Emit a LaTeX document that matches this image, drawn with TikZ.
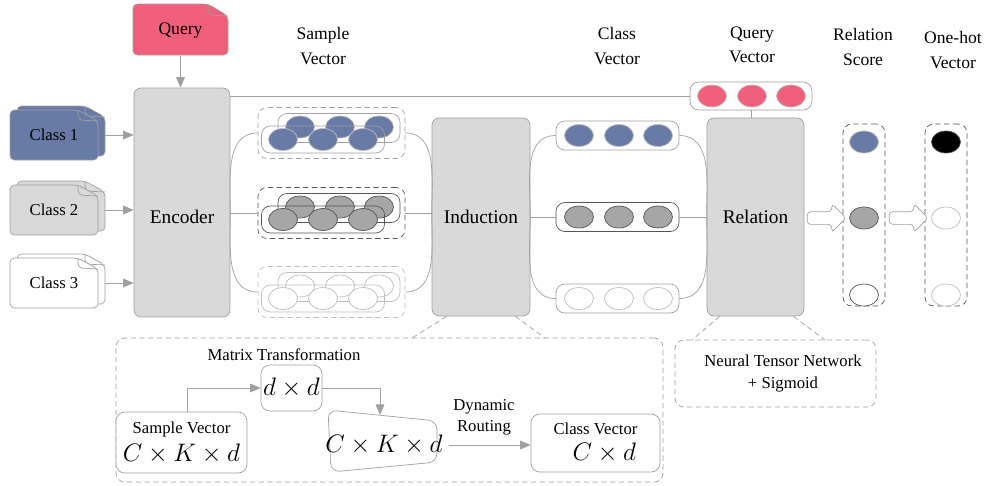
\documentclass[tikz,border=0pt]{standalone}
\usepackage{amsmath}
\usepackage{fontspec}
\setmainfont{Liberation Serif}
\usetikzlibrary{arrows.meta,shapes.geometric,shapes.arrows}

\definecolor{qpink}{RGB}{240,96,122}
\definecolor{cblue}{RGB}{104,122,166}
\definecolor{boxgray}{RGB}{217,217,217}
\definecolor{dotgray}{RGB}{166,166,166}
\definecolor{wiregray}{RGB}{160,160,160}
\definecolor{darkline}{RGB}{85,85,85}
\definecolor{paleline}{RGB}{190,190,190}

\newcommand{\mathsize}{\fontsize{13.5}{15}\selectfont}
\newcommand{\labsize}{\fontsize{10}{14}\selectfont}
\newcommand{\smallsize}{\fontsize{9.5}{12}\selectfont}

\tikzset{
  block/.style={draw=wiregray,fill=boxgray,rounded corners=4pt,inner sep=0pt,font=\fontsize{11}{13}\selectfont},
  page/.style={draw=wiregray,rounded corners=2.5pt},
  wire/.style={draw=wiregray},
  flow/.style={draw=wiregray,-{Triangle[length=6pt,width=5pt]}},
  vecbox/.style={draw=#1,rounded corners=5pt,inner sep=0pt},
  dashbox/.style={draw=#1,dash pattern=on 3pt off 2pt,rounded corners=5pt,inner sep=0pt},
  minibox/.style={draw=wiregray,fill=white,rounded corners=5pt,inner sep=0pt},
  bead/.style={ellipse,inner sep=0pt,minimum width=0.58cm,minimum height=0.44cm},
  beadblue/.style={bead,fill=cblue,draw=paleline},
  beadgray/.style={bead,fill=dotgray,draw=darkline},
  beadwhite/.style={bead,fill=white,draw=paleline},
  beadpink/.style={bead,fill=qpink,draw=paleline},
  beadblack/.style={bead,fill=black,draw=darkline},
  fatarrow/.style={single arrow,draw=wiregray,fill=white,minimum height=0.78cm,inner xsep=0pt,inner ysep=0.12cm,single arrow head extend=0.16cm,rounded corners=2pt}
}

\begin{document}
\begin{tikzpicture}[x=0.02cm,y=-0.02cm]
\useasboundingbox (0,0) rectangle (987,485);

% encoder side
\node[block,minimum width=1.92cm,minimum height=4.58cm] (enc) at (182,202.5) {\raisebox{-0.41cm}[0pt][0pt]{Encoder}};

\draw[page,fill=qpink] (133,4) -- (208,4) -- (228,16) -- (228,55) -- (133,55) -- cycle;
\draw[page] (208,4) -- ++(0,11) -- ++(20,1);
\node[font=\labsize,minimum width=1.9cm,minimum height=1.02cm] (query) at (180.5,30.5) {Query};
\draw[flow] (query.south) -- (query.south |- enc.north);

\foreach \i/\yy/\col in {1/110/cblue,2/185/boxgray,3/258/white}{
  \draw[page,fill=\col] (17,\yy-4) -- ++(68,0) -- ++(20,11) -- ++(0,39) -- ++(-88,0) -- cycle;
  \draw[page] (85,\yy-4) -- ++(0,10) -- ++(20,1);
  \draw[page,fill=\col] (10,\yy) -- ++(68,0) -- ++(20,11) -- ++(0,39) -- ++(-88,0) -- cycle;
  \draw[page] (78,\yy) -- ++(0,10) -- ++(20,1);
  \node[font=\fontsize{9.5}{11}\selectfont,minimum width=1.76cm,minimum height=1cm] (c\i) at (54,\yy+25) {Class \i};
  \draw[flow] ([xshift=0.14cm]c\i.east) -- (enc.west |- c\i.east);
}

% sample vectors
\foreach \g/\yy/\st/\ln in {1/133/beadblue/wiregray,2/213/beadgray/darkline,3/292/beadwhite/paleline}{
  \node[dashbox=\ln,minimum width=2.94cm,minimum height=1.02cm] (s\g) at (331.5,\yy) {};
  \node[vecbox=\ln,minimum width=2.44cm,minimum height=0.58cm] (sb\g) at (339,\yy-5) {};
  \foreach \xx [count=\k] in {300,340,379} \node[\st] (sb\g\k) at (\xx,\yy-6) {};
  \node[vecbox=\ln,minimum width=2.46cm,minimum height=0.54cm] (sf\g) at (323,\yy+6.5) {};
  \foreach \xx [count=\k] in {283,323,363} \node[\st] (sf\g\k) at (\xx,\yy+6.5) {};
}
\node[font=\labsize,align=center] (slab) at (323,46) {Sample\\Vector};

\node[block,minimum width=1.96cm,minimum height=3.96cm] (ind) at (481,217) {Induction};

\draw[wire] (s1.west) to[out=180,in=90] (enc.east |- s2.west) to[out=-90,in=180] (s3.west);
\draw[wire] (enc.east |- s2.west) -- (s2.west);
\draw[wire] (s1.east) to[out=0,in=90] (ind.west |- s2.east) to[out=-90,in=0] (s3.east);
\draw[wire] (s2.east) -- (ind.west |- s2.east);

% class vectors
\node[block,minimum width=1.94cm,minimum height=3.96cm] (rel) at (755.5,217) {Relation};

\foreach \i/\yy/\st/\ln in {1/135.5/beadblue/wiregray,2/217/beadgray/darkline,3/298.5/beadwhite/wiregray}{
  \node[vecbox=\ln,minimum width=2.46cm,minimum height=0.58cm] (v\i) at (617.5,\yy) {};
  \foreach \xx [count=\k] in {579,619,658} \node[\st] (v\i\k) at (\xx,\yy) {};
}
\node[font=\labsize,align=center] (clab) at (617,46) {Class\\Vector};

\draw[wire] (v1.west) to[out=180,in=90] (ind.east |- v2.west) to[out=-90,in=180] (v3.west);
\draw[wire] (ind.east |- v2.west) -- (v2.west);
\draw[wire] (v1.east) to[out=0,in=90] (rel.west |- v2.east) to[out=-90,in=0] (v3.east);
\draw[wire] (v2.east) -- (rel.west |- v2.east);

% query vector
\node[vecbox=wiregray,minimum width=2.44cm,minimum height=0.56cm] (qv) at (751,96) {};
\foreach \xx [count=\k] in {712,752,791} \node[beadpink] (qv\k) at (\xx,96) {};
\node[font=\labsize,align=center] (qlab) at (752,45) {Query\\Vector};
\draw[wire] (enc.north east |- qv.west) -- (qv.west);
\draw[wire] (qv.south) -- (qv.south |- rel.north);

% scores
\node[dashbox=darkline,minimum width=0.84cm,minimum height=3.64cm] (rs) at (864,215) {};
\node[beadblue] (rs1) at (864,142) {};
\node[beadgray] (rs2) at (864,218) {};
\node[beadwhite,draw=darkline] (rs3) at (864,295) {};
\node[font=\labsize,align=center] (rlab) at (863,47) {Relation\\Score};

\node[dashbox=darkline,minimum width=0.84cm,minimum height=3.64cm] (oh) at (946,215) {};
\node[beadblack] (oh1) at (946,142) {};
\node[beadwhite] (oh2) at (946,218) {};
\node[beadwhite] (oh3) at (946,295) {};
\node[font=\labsize,align=center] (olab) at (953,50) {One-hot\\Vector};

\node[fatarrow] (fa1) at (823.5,218) {};
\node[fatarrow] (fa2) at (905.5,218) {};

% induction details
\node[dashbox=wiregray,minimum width=10.94cm,minimum height=2.88cm] (detail) at (389.5,410) {};
\coordinate (d1) at (412,338);
\coordinate (d2) at (545,338);
\draw[wire,dash pattern=on 3pt off 2pt] ([xshift=0.3cm]ind.south west) -- (d1);
\draw[wire,dash pattern=on 3pt off 2pt] ([xshift=-0.3cm]ind.south east) -- (d2);

\node[font=\smallsize] (mt) at (284,355) {Matrix Transformation};
\node[minibox,font=\mathsize,minimum width=1.22cm,minimum height=0.92cm] (dd) at (291.5,388) {$d\times d$};
\node[minibox,align=center,font=\smallsize,minimum width=2.62cm,minimum height=1.22cm] (sv) at (181.5,442.5) {Sample Vector\\[3pt]{\mathsize$C\times K\times d$}};
\draw[flow] ([xshift=0.11cm]sv.north) |- (dd.west);

\draw[minibox] (328,410) -- (437,421) -- (437,462) -- (331,472) -- cycle;
\node[font=\mathsize,minimum width=2.18cm,minimum height=1.1cm] (tz) at (384,445) {$C\times K\times d$};
\coordinate (tztop) at (380,415);
\draw[flow] (dd.east) -| (tztop);

\node[minibox,align=center,font=\smallsize,minimum width=2.58cm,minimum height=1.16cm] (cv) at (595.5,443) {Class Vector\\[3pt]\hspace*{0.35cm}{\mathsize$C\times d$}};
\node[font=\smallsize,align=center] (dr) at (484,417) {Dynamic\\Routing};
\draw[flow] (tz.east) -- (cv.west |- tz.east);

% relation details
\node[dashbox=wiregray,align=center,font=\smallsize,minimum width=4.02cm,minimum height=1.34cm] (nt) at (775.5,373.5) {\hspace*{0.3cm}Neural Tensor Network\\\hspace*{0.3cm}+ Sigmoid};
\coordinate (d3) at (692,340);
\coordinate (d4) at (825,340);
\draw[wire,dash pattern=on 3pt off 2pt] ([xshift=0.26cm]rel.south west) -- (d3);
\draw[wire,dash pattern=on 3pt off 2pt] ([xshift=-0.22cm]rel.south east) -- (d4);
\end{tikzpicture}
\end{document}
